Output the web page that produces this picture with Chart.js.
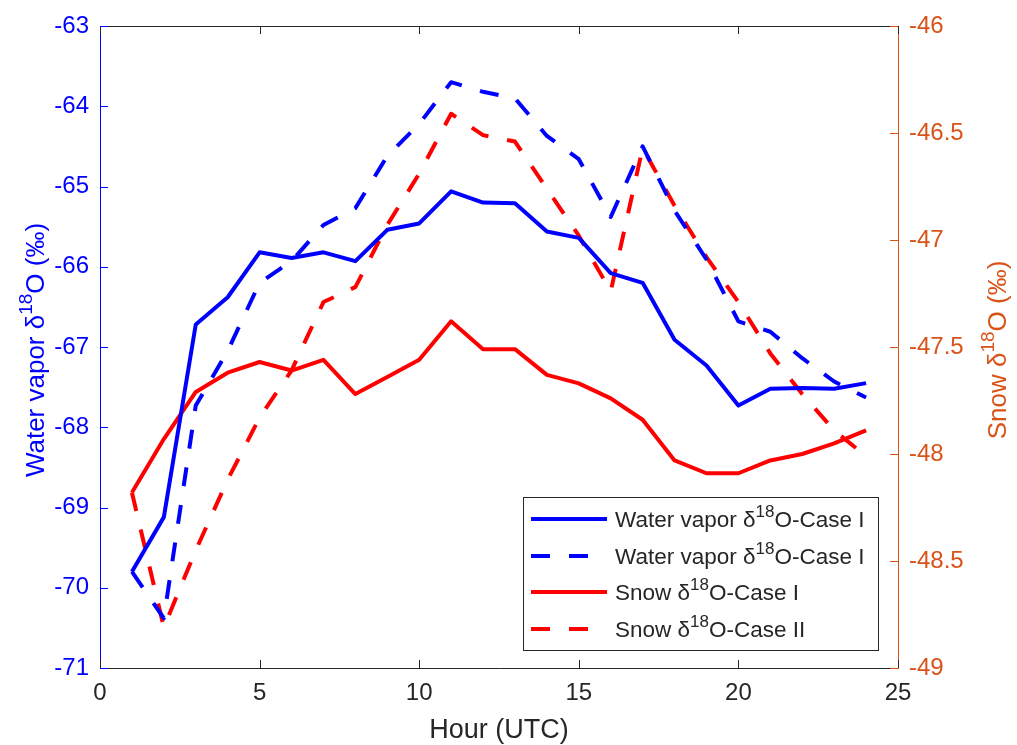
<!DOCTYPE html>
<html>
<head>
<meta charset="utf-8">
<script src="https://cdn.jsdelivr.net/npm/chart.js@4/dist/chart.umd.min.js"></script>
<style>
  html, body { margin: 0; padding: 0; background: #fff; }
  #wrap { width: 1017px; height: 745px; }
</style>
</head>
<body>
<div id="wrap"><canvas id="isoChart" width="1017" height="745"></canvas></div>
<script>
// hours of the day (UTC)
const hours = [1, 2, 3, 4, 5, 6, 7, 8, 9, 10, 11, 12, 13, 14, 15, 16, 17, 18, 19, 20, 21, 22, 23, 24];

// left axis, water vapor d18O (permil)
const vaporCase1 = [-69.80, -69.12, -66.72, -66.38, -65.82, -65.89, -65.82, -65.93, -65.54, -65.46, -65.06, -65.20,
                    -65.21, -65.56, -65.64, -66.08, -66.20, -66.91, -67.23, -67.73, -67.52, -67.51, -67.52, -67.45];
const vaporCase2 = [-69.80, -70.38, -67.73, -67.05, -66.20, -65.93, -65.48, -65.27, -64.62, -64.22, -63.70, -63.82,
                    -63.90, -64.37, -64.66, -65.38, -64.50, -65.30, -65.91, -66.68, -66.81, -67.14, -67.43, -67.63];

// right axis, snow d18O (permil)
const snowCase1 = [-48.18, -47.93, -47.71, -47.62, -47.57, -47.61, -47.56, -47.72, -47.64, -47.56, -47.38, -47.51,
                   -47.51, -47.63, -47.67, -47.74, -47.84, -48.03, -48.09, -48.09, -48.03, -48.00, -47.95, -47.89];
const snowCase2 = [-48.18, -48.81, -48.45, -48.12, -47.83, -47.61, -47.29, -47.22, -46.93, -46.69, -46.41, -46.51,
                   -46.54, -46.76, -46.98, -47.24, -46.57, -46.84, -47.08, -47.29, -47.53, -47.72, -47.89, -48.01];

// legend text, split round the superscript
const legendLabels = [
  ['Water vapor δ', '18', 'O-Case I'],
  ['Water vapor δ', '18', 'O-Case I'],
  ['Snow δ', '18', 'O-Case I'],
  ['Snow δ', '18', 'O-Case II']
];
const leftTitle = ['Water vapor δ', '18', 'O (‰)'];
const rightTitle = ['Snow δ', '18', 'O (‰)'];
const xTitle = 'Hour (UTC)';

const FONT = "'Liberation Sans', Arial, sans-serif";
const DARK = '#262626';
const ORANGE = '#D95319';
const BLUE = '#0000FF';
const RED = '#FF0000';

function pts(ys) {
  return hours.map((h, i) => ({ x: h, y: ys[i] }));
}

// text with one superscript part
function richWidth(ctx, parts, size) {
  ctx.font = size + 'px ' + FONT;
  let w = ctx.measureText(parts[0]).width + ctx.measureText(parts[2]).width;
  ctx.font = Math.round(size * 0.74) + 'px ' + FONT;
  return w + ctx.measureText(parts[1]).width;
}
function drawRich(ctx, parts, x, y, size, color) {
  ctx.fillStyle = color;
  ctx.textBaseline = 'alphabetic';
  ctx.textAlign = 'left';
  ctx.font = size + 'px ' + FONT;
  ctx.fillText(parts[0], x, y);
  x += ctx.measureText(parts[0]).width;
  ctx.font = Math.round(size * 0.74) + 'px ' + FONT;
  ctx.fillText(parts[1], x, y - size * 0.45);
  x += ctx.measureText(parts[1]).width;
  ctx.font = size + 'px ' + FONT;
  ctx.fillText(parts[2], x, y);
}

const decor = {
  id: 'decor',
  afterDatasetsDraw(chart) {
    const ctx = chart.ctx;
    const a = chart.chartArea;
    const sx = chart.scales.x, sy = chart.scales.y, sy2 = chart.scales.y2;
    const tl = 8;
    ctx.save();
    ctx.lineWidth = 1;
    // top box line + inward ticks
    ctx.strokeStyle = DARK;
    ctx.beginPath();
    ctx.moveTo(a.left, a.top + 0.5); ctx.lineTo(a.right, a.top + 0.5);
    sx.ticks.forEach(t => {
      const px = Math.round(sx.getPixelForValue(t.value)) + 0.5;
      ctx.moveTo(px, a.bottom); ctx.lineTo(px, a.bottom - tl);
      ctx.moveTo(px, a.top); ctx.lineTo(px, a.top + tl);
    });
    ctx.stroke();
    ctx.strokeStyle = BLUE;
    ctx.beginPath();
    sy.ticks.forEach(t => {
      const py = Math.round(sy.getPixelForValue(t.value)) + 0.5;
      ctx.moveTo(a.left, py); ctx.lineTo(a.left + tl, py);
    });
    ctx.stroke();
    ctx.strokeStyle = ORANGE;
    ctx.beginPath();
    sy2.ticks.forEach(t => {
      const py = Math.round(sy2.getPixelForValue(t.value)) + 0.5;
      ctx.moveTo(a.right, py); ctx.lineTo(a.right - tl, py);
    });
    ctx.stroke();

    // legend
    const bw = 355, bh = 153;
    const bx = a.right - 20 - bw, by = a.bottom - 18 - bh;
    ctx.fillStyle = '#fff';
    ctx.fillRect(bx, by, bw, bh);
    ctx.strokeStyle = DARK;
    ctx.strokeRect(Math.round(bx) + 0.5, Math.round(by) + 0.5, bw, bh);
    const rows = [22, 59, 95, 132];
    chart.data.datasets.forEach((ds, i) => {
      const ry = by + rows[i];
      ctx.strokeStyle = ds.borderColor;
      ctx.lineWidth = ds.borderWidth;
      ctx.setLineDash(ds.borderDash || []);
      ctx.lineCap = 'butt';
      ctx.beginPath();
      ctx.moveTo(bx + 8, ry); ctx.lineTo(bx + 84, ry);
      ctx.stroke();
      ctx.setLineDash([]);
      drawRich(ctx, legendLabels[i], bx + 92, ry + 8, 22.5, DARK);
    });

    // axis titles
    const size = 26;
    const cy = (a.top + a.bottom) / 2 + 3;
    let w = richWidth(ctx, leftTitle, size);
    ctx.save();
    ctx.translate(44, cy);
    ctx.rotate(-Math.PI / 2);
    drawRich(ctx, leftTitle, -w / 2, 0, size, BLUE);
    ctx.restore();
    w = richWidth(ctx, rightTitle, size);
    ctx.save();
    ctx.translate(1006, cy);
    ctx.rotate(-Math.PI / 2);
    drawRich(ctx, rightTitle, -w / 2, 0, size, ORANGE);
    ctx.restore();

    ctx.font = '27px ' + FONT;
    ctx.fillStyle = DARK;
    ctx.textAlign = 'center';
    ctx.textBaseline = 'alphabetic';
    ctx.fillText(xTitle, (a.left + a.right) / 2, 738);
    ctx.restore();
  }
};

const tickFont = { family: FONT, size: 24 };

new Chart(document.getElementById('isoChart'), {
  type: 'line',
  plugins: [decor],
  data: {
    datasets: [
      { data: pts(vaporCase1), borderColor: BLUE, borderWidth: 4, yAxisID: 'y' },
      { data: pts(vaporCase2), borderColor: BLUE, borderWidth: 4, borderDash: [19, 19], yAxisID: 'y' },
      { data: pts(snowCase1), borderColor: RED, borderWidth: 4, yAxisID: 'y2' },
      { data: pts(snowCase2), borderColor: RED, borderWidth: 4, borderDash: [19, 19], yAxisID: 'y2' }
    ]
  },
  options: {
    responsive: false,
    animation: false,
    layout: { padding: { top: 26, left: 0, right: 0, bottom: 0 } },
    elements: {
      point: { radius: 0 },
      line: { tension: 0, fill: false, borderJoinStyle: 'round', borderCapStyle: 'butt' }
    },
    plugins: {
      legend: { display: false },
      tooltip: { enabled: false }
    },
    scales: {
      x: {
        type: 'linear',
        min: 0, max: 25,
        position: 'bottom',
        grid: { display: false, drawTicks: false },
        border: { display: true, color: DARK, width: 1 },
        ticks: { stepSize: 5, color: DARK, padding: 11, font: tickFont },
        afterFit: s => { s.height = 77; }
      },
      y: {
        type: 'linear',
        position: 'left',
        min: -71, max: -63,
        grid: { display: false, drawTicks: false },
        border: { display: true, color: BLUE, width: 1 },
        ticks: { stepSize: 1, color: BLUE, padding: 11, font: tickFont, callback: v => String(v) },
        afterFit: s => { s.width = 100; }
      },
      y2: {
        type: 'linear',
        position: 'right',
        min: -49, max: -46,
        grid: { display: false, drawTicks: false },
        border: { display: true, color: ORANGE, width: 1 },
        ticks: { stepSize: 0.5, color: ORANGE, padding: 11, font: tickFont, callback: v => String(v) },
        afterFit: s => { s.width = 119; }
      }
    }
  }
});
</script>
</body>
</html>
